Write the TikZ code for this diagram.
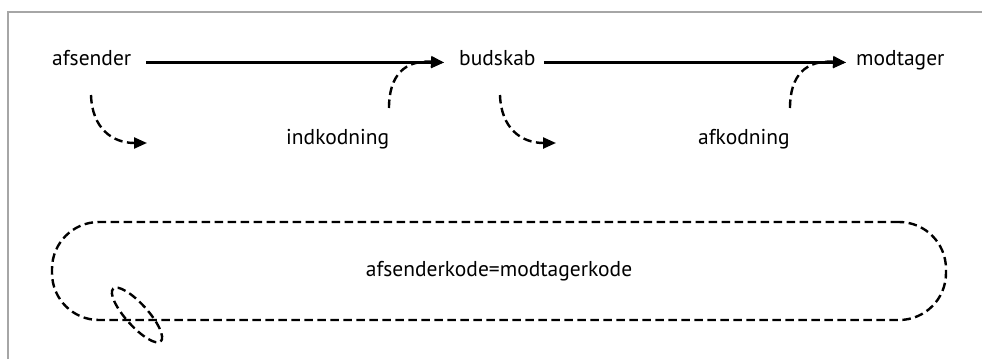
\documentclass[tikz,border=0pt]{standalone}
\usepackage{fontspec}
\setmainfont{PT Sans}
\usetikzlibrary{arrows.meta,shapes.geometric}
\begin{document}
\begin{tikzpicture}[x=1pt,y=-1pt,
 lbl/.style={inner sep=0pt, anchor=base west, font=\fontsize{21.5}{26}\selectfont},
 flow/.style={line width=2.4pt, -{Triangle[length=13pt,width=11pt]}},
 dsh/.style={line width=2.4pt, dash pattern=on 8.5pt off 4.5pt},
 dflow/.style={dsh, -{Triangle[length=13pt,width=11pt]}},
 frame/.style={draw=black!35, line width=2.4pt}]
\useasboundingbox (0,0) rectangle (982,359);
\draw[frame] (8,359) -- (8,12) -- (982,12);
% labels
\node[lbl] (afsender) at (52,65) {afsender};
\node[lbl] (budskab) at (459,65) {budskab};
\node[lbl] (modtager) at (856,65) {modtager};
\node[lbl] (indkodning) at (286,144) {indkodning};
\node[lbl] (afkodning) at (698,144) {afkodning};
% main arrows
\draw[flow] ([xshift=15pt]afsender.mid east) -- ([xshift=-15pt]budskab.mid west);
\draw[flow] ([xshift=8pt]budskab.mid east) -- ([xshift=-10pt]modtager.mid west);
% dashed curves
\coordinate (c1s) at (91,95);
\coordinate (c1e) at (147,143);
\coordinate (c3s) at (500,95);
\coordinate (c3e) at (556,143);
\coordinate (c2s) at (389,108);
\coordinate (c4s) at (790,108);
\draw[dflow] (c1s) .. controls (92,128) and (112,143) .. (c1e);
\draw[dflow] (c3s) .. controls (501,128) and (521,143) .. (c3e);
\draw[dflow] (c2s) .. controls (389,75) and (405,60) .. ([xshift=-15pt]budskab.mid west);
\draw[dflow] (c4s) .. controls (790,75) and (806,60) .. ([xshift=-10pt]modtager.mid west);
% code box
\node[draw, dsh, rounded corners=47pt, minimum width=894pt, minimum height=98pt,
      inner sep=0pt, font=\fontsize{21.5}{26}\selectfont] (kode) at (499,271) {afsenderkode=modtagerkode};
\node[ellipse, draw, dsh, minimum width=71pt, minimum height=22pt, inner sep=0pt, rotate=-48] (loop) at (137,315) {};
\end{tikzpicture}
\end{document}
